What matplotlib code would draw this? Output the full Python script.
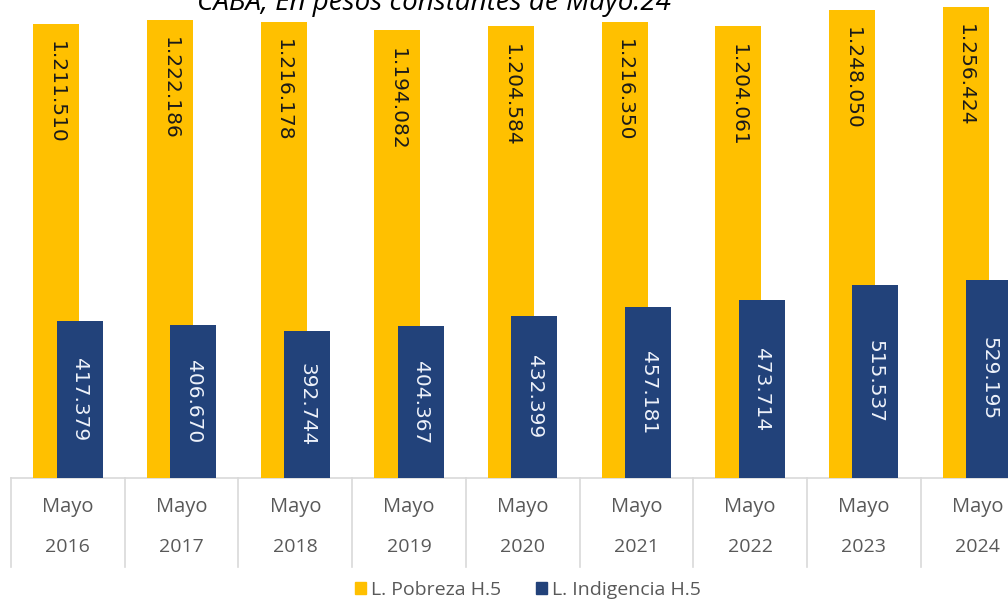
import matplotlib
matplotlib.use("Agg")
import matplotlib.pyplot as plt
from matplotlib.patches import Patch
import matplotlib.transforms as mtransforms

years = ["2016", "2017", "2018", "2019", "2020", "2021", "2022", "2023", "2024"]
month = "Mayo"
pobreza = [1211510, 1222186, 1216178, 1194082, 1204584, 1216350, 1204061, 1248050, 1256424]
indigencia = [417379, 406670, 392744, 404367, 432399, 457181, 473714, 515537, 529195]
series_names = ["L. Pobreza H.5", "L. Indigencia H.5"]
title = "CABA, En pesos constantes de Mayo.24"

YELLOW = "#FFC000"
BLUE = "#22427A"
GRAY = "#595959"
GRID = "#D9D9D9"

def fmt(v):
    return f"{v:,}".replace(",", ".")

W, H = 1008, 609
fig = plt.figure(figsize=(W / 100, H / 100), dpi=100)
base_px = 478
ax = fig.add_axes([0, 1 - base_px / H, 1, base_px / H])
ax.set_ylim(0, base_px / 3.75e-4)
cat_px = 113.7
left_sep_px = 11
ax.set_xlim(-0.5 - left_sep_px / cat_px, -0.5 + (W - left_sep_px) / cat_px)
ax.axis("off")

bw = 0.405
off = 0.103
x = list(range(len(years)))
ax.bar([i - off for i in x], pobreza, width=bw, color=YELLOW, zorder=2)
ax.bar([i + off for i in x], indigencia, width=bw, color=BLUE, zorder=3)

for i in x:
    ax.annotate(fmt(pobreza[i]), (i - off, pobreza[i]), xytext=(0, -12.5),
                textcoords="offset points", rotation=270, ha="center", va="top",
                fontsize=14.5, color="#1a1a1a", family="DejaVu Sans", zorder=4)
    ax.text(i + off, indigencia[i] / 2, fmt(indigencia[i]), rotation=270,
            ha="center", va="center", fontsize=14.5, color="#EEF2FA",
            family="DejaVu Sans", zorder=4)

trans = mtransforms.blended_transform_factory(ax.transData, ax.transAxes)
ax.plot([-0.5, len(years) - 0.5], [0, 0], color=GRID, lw=1.2, transform=trans,
        clip_on=False, zorder=1)
sep_bottom = -(567 - base_px) / base_px
for k in range(len(years) + 1):
    ax.plot([k - 0.5, k - 0.5], [0, sep_bottom], color=GRID, lw=1.2,
            transform=trans, clip_on=False, zorder=1)
for i in x:
    ax.text(i, -(507 - base_px) / base_px, month, transform=trans, ha="center",
            va="center", fontsize=14.5, color=GRAY, family="Open Sans")
    ax.text(i, -(547 - base_px) / base_px, years[i], transform=trans, ha="center",
            va="center", fontsize=14, color=GRAY, family="Open Sans")

fig.text(197 / W, 1 - 10 / H, title, ha="left", va="baseline", fontsize=20,
         style="italic", color="black", family="Open Sans")

handles = [Patch(color=YELLOW), Patch(color=BLUE)]
fig.legend(handles, series_names, loc="center", bbox_to_anchor=(528 / W, 1 - 590 / H),
           ncol=2, frameon=False, handlelength=0.55, handleheight=0.55,
           handletextpad=0.25, columnspacing=1.8, prop={"family": "Open Sans", "size": 14},
           labelcolor=GRAY)

fig.savefig("out.png", dpi=100)
